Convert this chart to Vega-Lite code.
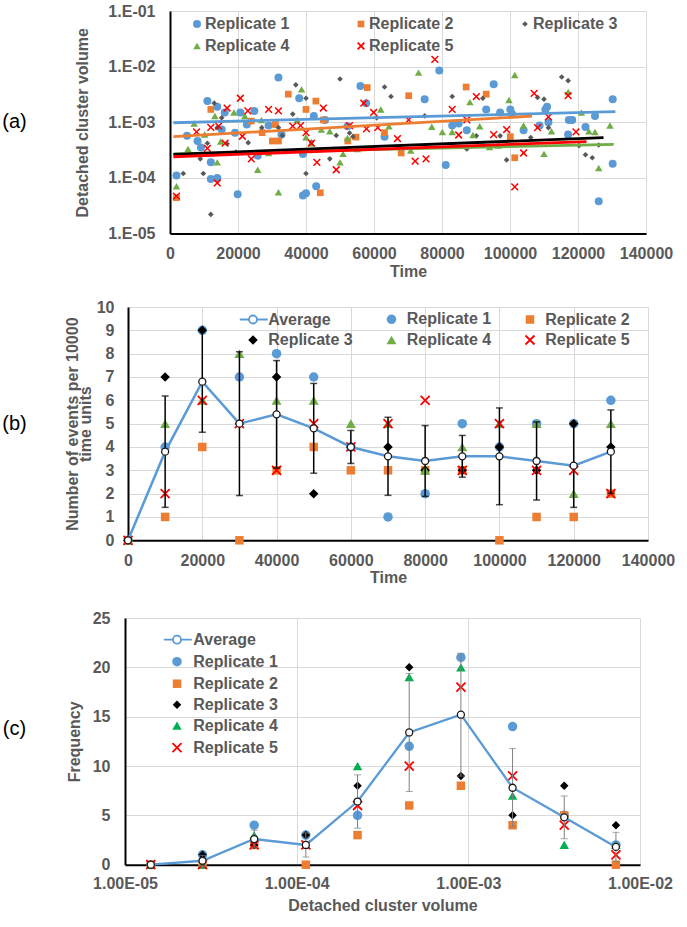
{
  "$schema": "https://vega.github.io/schema/vega-lite/v6.json",
  "padding": {"left": 2, "top": 3, "right": 5, "bottom": 5},
  "columns": 1,
  "spacing": 24,
  "align": "none",
  "resolve": {
    "scale": {"shape": "independent", "fill": "independent", "stroke": "independent", "size": "independent", "color": "independent"},
    "legend": {"shape": "independent", "fill": "independent", "stroke": "independent", "size": "independent", "color": "independent"}
  },
  "concat": [
    {
      "columns": 1,
      "spacing": 19,
      "align": "none",
      "resolve": {
        "scale": {"shape": "independent", "fill": "independent", "stroke": "independent", "size": "independent", "color": "independent"},
        "legend": {"shape": "independent", "fill": "independent", "stroke": "independent", "size": "independent", "color": "independent"}
      },
      "concat": [
        {
          "spacing": 47,
          "resolve": {
            "scale": {"shape": "independent", "fill": "independent", "stroke": "independent", "size": "independent", "color": "independent"},
            "legend": {"shape": "independent", "fill": "independent", "stroke": "independent", "size": "independent", "color": "independent"}
          },
          "hconcat": [
            {
              "width": 25, "height": 222.5,
              "data": {"values": [{"l": "(a)"}]},
              "mark": {"type": "text", "fontSize": 20, "font": "Liberation Sans", "color": "black", "align": "center", "baseline": "middle"},
              "encoding": {"text": {"field": "l", "type": "nominal"}}
            },
            {
              "width": 476,
              "height": 222.5,
              "encoding": {
                "x": {"field": "t", "type": "quantitative", "scale": {"domain": [0, 140000], "nice": false},
                      "axis": {"values": [0, 20000, 40000, 60000, 80000, 100000, 120000, 140000], "format": "d", "title": "Time", "labelPadding": 12, "titlePadding": 2, "grid": true}},
                "y": {"field": "v", "type": "quantitative", "scale": {"type": "log", "domain": [0.00001, 0.1], "nice": false},
                      "axis": {"values": [0.00001, 0.0001, 0.001, 0.01, 0.1], "labelExpr": "'1.E-0' + round(-log(datum.value)/LN10)", "title": "Detached cluster volume", "labelPadding": 15, "titlePadding": 17, "grid": true}}
              },
              "layer": [
                {
                  "data": {"name": "a"},
                  "mark": {"type": "point", "filled": true, "opacity": 1, "strokeWidth": 1.5},
                  "encoding": {
                    "shape": {"field": "s", "type": "nominal", "scale": {"domain": ["Replicate 1", "Replicate 2", "Replicate 3", "Replicate 4", "Replicate 5"], "range": ["circle", "square", "diamond", "triangle-up", "M-1,-1L1,1M-1,1L1,-1"]},
                              "legend": {"orient": "none", "legendX": 19, "legendY": 5, "direction": "horizontal", "columns": 3, "columnPadding": 63, "rowPadding": 6, "labelOffset": 0, "title": null}},
                    "fill": {"field": "s", "type": "nominal", "scale": {"domain": ["Replicate 1", "Replicate 2", "Replicate 3", "Replicate 4", "Replicate 5"], "range": ["#5B9BD5", "#ED7D31", "#595959", "#70AD47", "transparent"]},
                             "legend": {"orient": "none", "legendX": 19, "legendY": 5, "direction": "horizontal", "columns": 3, "columnPadding": 63, "rowPadding": 6, "labelOffset": 0, "title": null}},
                    "stroke": {"field": "s", "type": "nominal", "scale": {"domain": ["Replicate 1", "Replicate 2", "Replicate 3", "Replicate 4", "Replicate 5"], "range": ["transparent", "transparent", "transparent", "transparent", "#FF0000"]},
                               "legend": {"orient": "none", "legendX": 19, "legendY": 5, "direction": "horizontal", "columns": 3, "columnPadding": 63, "rowPadding": 6, "labelOffset": 0, "title": null}},
                    "size": {"field": "s", "type": "nominal", "scale": {"type": "ordinal", "domain": ["Replicate 1", "Replicate 2", "Replicate 3", "Replicate 4", "Replicate 5"], "range": [64, 45, 32, 56, 45]},
                             "legend": {"orient": "none", "legendX": 19, "legendY": 5, "direction": "horizontal", "columns": 3, "columnPadding": 63, "rowPadding": 6, "labelOffset": 0, "title": null}}
                  }
                },
                {
                  "data": {"name": "at"},
                  "mark": {"type": "line", "strokeWidth": 2.8},
                  "encoding": {
                    "color": {"field": "s", "type": "nominal", "scale": {"domain": ["Replicate 1", "Replicate 2", "Replicate 4", "Replicate 3", "Replicate 5"], "range": ["#5B9BD5", "#ED7D31", "#70AD47", "#000000", "#FF0000"]}, "legend": null}
                  }
                },
                {
                  "data": {"values": [{}]},
                  "mark": {"type": "point", "shape": "M0,0L-1,2.2L1,2.2Z", "filled": true, "color": "black", "size": 49, "opacity": 1, "strokeWidth": 0},
                  "encoding": {"x": {"datum": 0, "type": "quantitative"}, "y": {"datum": 0.1, "type": "quantitative"}}
                },
                {
                  "data": {"values": [{}]},
                  "mark": {"type": "point", "shape": "M0,0L-2.2,-1L-2.2,1Z", "filled": true, "color": "black", "size": 49, "opacity": 1, "strokeWidth": 0},
                  "encoding": {"x": {"datum": 140000, "type": "quantitative"}, "y": {"datum": 0.00001, "type": "quantitative"}}
                }
              ]
            }
          ]
        },
        {
          "spacing": 37,
          "resolve": {
            "scale": {"shape": "independent", "fill": "independent", "stroke": "independent", "size": "independent", "color": "independent"},
            "legend": {"shape": "independent", "fill": "independent", "stroke": "independent", "size": "independent", "color": "independent"}
          },
          "hconcat": [
            {
              "width": 25, "height": 233.3,
              "data": {"values": [{"l": "(b)"}]},
              "mark": {"type": "text", "fontSize": 20, "font": "Liberation Sans", "color": "black", "align": "center", "baseline": "middle"},
              "encoding": {"text": {"field": "l", "type": "nominal"}}
            },
            {
              "width": 520,
              "height": 233.3,
              "data": {"name": "b"},
              "encoding": {
                "x": {"field": "t", "type": "quantitative", "scale": {"domain": [0, 140000], "nice": false},
                      "axis": {"values": [0, 20000, 40000, 60000, 80000, 100000, 120000, 140000], "format": "d", "title": "Time", "labelPadding": 12, "titlePadding": 1, "grid": true}},
                "y": {"field": "v", "type": "quantitative", "scale": {"domain": [0, 10], "nice": false},
                      "axis": {"values": [0, 1, 2, 3, 4, 5, 6, 7, 8, 9, 10], "title": ["Number of events per 10000", "time units"], "titleLineHeight": 13, "labelPadding": 14, "titlePadding": 3, "grid": true}}
              },
              "layer": [
                {
                  "transform": [{"filter": "datum.s !== 'Average'"}],
                  "mark": {"type": "point", "filled": true, "opacity": 1, "strokeWidth": 1.8},
                  "encoding": {
                    "shape": {"field": "s", "type": "nominal", "scale": {"domain": ["Average", "Replicate 1", "Replicate 2", "Replicate 3", "Replicate 4", "Replicate 5"], "range": ["M-3.3,0L-1,0M1,0L3.7,0M-1,0A1,1,0,1,1,1,0A1,1,0,1,1,-1,0Z", "circle", "square", "diamond", "triangle-up", "M-1,-1L1,1M-1,1L1,-1"]},
                              "legend": {"orient": "none", "legendX": 117, "legendY": 4, "direction": "horizontal", "columns": 3, "columnPadding": 29.5, "rowPadding": 3, "labelOffset": 7.2, "title": null}},
                    "fill": {"field": "s", "type": "nominal", "scale": {"domain": ["Average", "Replicate 1", "Replicate 2", "Replicate 3", "Replicate 4", "Replicate 5"], "range": ["white", "#5B9BD5", "#ED7D31", "#000000", "#70AD47", "transparent"]},
                             "legend": {"orient": "none", "legendX": 117, "legendY": 4, "direction": "horizontal", "columns": 3, "columnPadding": 29.5, "rowPadding": 3, "labelOffset": 7.2, "title": null}},
                    "stroke": {"field": "s", "type": "nominal", "scale": {"domain": ["Average", "Replicate 1", "Replicate 2", "Replicate 3", "Replicate 4", "Replicate 5"], "range": ["#5B9BD5", "transparent", "transparent", "transparent", "transparent", "#FF0000"]},
                               "legend": {"orient": "none", "legendX": 117, "legendY": 4, "direction": "horizontal", "columns": 3, "columnPadding": 29.5, "rowPadding": 3, "labelOffset": 7.2, "title": null}},
                    "size": {"field": "s", "type": "nominal", "scale": {"type": "ordinal", "domain": ["Average", "Replicate 1", "Replicate 2", "Replicate 3", "Replicate 4", "Replicate 5"], "range": [64, 90, 72, 90, 100, 81]},
                             "legend": {"orient": "none", "legendX": 117, "legendY": 4, "direction": "horizontal", "columns": 3, "columnPadding": 29.5, "rowPadding": 3, "labelOffset": 7.2, "title": null}}
                  }
                },
                {
                  "transform": [{"filter": "datum.s !== 'Average'"}],
                  "mark": {"type": "errorbar", "extent": "stdev", "orient": "vertical", "ticks": true, "size": 7, "thickness": 1.5, "color": "black"}
                },
                {
                  "transform": [{"filter": "datum.s === 'Average'"}],
                  "mark": {"type": "line", "color": "#5B9BD5", "strokeWidth": 2.5}
                },
                {
                  "transform": [{"filter": "datum.s === 'Average'"}],
                  "mark": {"type": "point", "shape": "circle", "filled": true, "fill": "white", "stroke": "#1a1a1a", "strokeWidth": 1.3, "size": 49, "opacity": 1}
                },
                {
                  "data": {"values": [{}]},
                  "mark": {"type": "point", "shape": "M0,0L-1,2.2L1,2.2Z", "filled": true, "color": "black", "size": 49, "opacity": 1, "strokeWidth": 0},
                  "encoding": {"x": {"datum": 0, "type": "quantitative"}, "y": {"datum": 10, "type": "quantitative"}}
                },
                {
                  "data": {"values": [{}]},
                  "mark": {"type": "point", "shape": "M0,0L-2.2,-1L-2.2,1Z", "filled": true, "color": "black", "size": 49, "opacity": 1, "strokeWidth": 0},
                  "encoding": {"x": {"datum": 140000, "type": "quantitative"}, "y": {"datum": 0, "type": "quantitative"}}
                }
              ]
            }
          ]
        }
      ]
    },
    {
      "spacing": 39,
      "resolve": {
        "scale": {"shape": "independent", "fill": "independent", "stroke": "independent", "size": "independent", "color": "independent"},
        "legend": {"shape": "independent", "fill": "independent", "stroke": "independent", "size": "independent", "color": "independent"}
      },
      "hconcat": [
        {
          "width": 25, "height": 246.7,
          "data": {"values": [{"l": "(c)"}]},
          "mark": {"type": "text", "fontSize": 20, "font": "Liberation Sans", "color": "black", "align": "center", "baseline": "middle", "dy": -12},
          "encoding": {"text": {"field": "l", "type": "nominal"}}
        },
        {
          "width": 515,
          "height": 246.7,
          "data": {"name": "c"},
          "encoding": {
            "x": {"field": "t", "type": "quantitative", "scale": {"type": "log", "domain": [0.00001, 0.01], "nice": false},
                  "axis": {"values": [0.00001, 0.0001, 0.001, 0.01], "labelExpr": "'1.00E-0' + round(-log(datum.value)/LN10)", "title": "Detached cluster volume", "labelPadding": 11, "titlePadding": 6, "grid": true}},
            "y": {"field": "v", "type": "quantitative", "scale": {"domain": [0, 25], "nice": false},
                  "axis": {"values": [0, 5, 10, 15, 20, 25], "title": "Frequency", "labelPadding": 15, "titlePadding": 10, "grid": true}}
          },
          "layer": [
            {
              "transform": [{"filter": "datum.s !== 'Average'"}],
              "mark": {"type": "point", "filled": true, "opacity": 1, "strokeWidth": 1.8},
              "encoding": {
                "shape": {"field": "s", "type": "nominal", "scale": {"domain": ["Average", "Replicate 1", "Replicate 2", "Replicate 3", "Replicate 4", "Replicate 5"], "range": ["M-3.3,0L-1,0M1,0L3.7,0M-1,0A1,1,0,1,1,1,0A1,1,0,1,1,-1,0Z", "circle", "square", "diamond", "triangle-up", "M-1,-1L1,1M-1,1L1,-1"]},
                          "legend": {"orient": "none", "legendX": 44, "legendY": 13.7, "columns": 1, "rowPadding": 5, "labelOffset": 8.3, "title": null}},
                "fill": {"field": "s", "type": "nominal", "scale": {"domain": ["Average", "Replicate 1", "Replicate 2", "Replicate 3", "Replicate 4", "Replicate 5"], "range": ["white", "#5B9BD5", "#ED7D31", "#000000", "#00B050", "transparent"]},
                         "legend": {"orient": "none", "legendX": 44, "legendY": 13.7, "columns": 1, "rowPadding": 5, "labelOffset": 8.3, "title": null}},
                "stroke": {"field": "s", "type": "nominal", "scale": {"domain": ["Average", "Replicate 1", "Replicate 2", "Replicate 3", "Replicate 4", "Replicate 5"], "range": ["#5B9BD5", "transparent", "transparent", "transparent", "transparent", "#FF0000"]},
                           "legend": {"orient": "none", "legendX": 44, "legendY": 13.7, "columns": 1, "rowPadding": 5, "labelOffset": 8.3, "title": null}},
                "size": {"field": "s", "type": "nominal", "scale": {"type": "ordinal", "domain": ["Average", "Replicate 1", "Replicate 2", "Replicate 3", "Replicate 4", "Replicate 5"], "range": [64, 90, 72, 72, 90, 81]},
                         "legend": {"orient": "none", "legendX": 44, "legendY": 13.7, "columns": 1, "rowPadding": 5, "labelOffset": 8.3, "title": null}}
              }
            },
            {
              "transform": [{"filter": "datum.s !== 'Average'"}],
              "mark": {"type": "errorbar", "extent": "stdev", "orient": "vertical", "ticks": true, "size": 7, "thickness": 1, "color": "#7F7F7F"}
            },
            {
              "transform": [{"filter": "datum.s === 'Average'"}],
              "mark": {"type": "line", "color": "#5B9BD5", "strokeWidth": 2.3}
            },
            {
              "transform": [{"filter": "datum.s === 'Average'"}],
              "mark": {"type": "point", "shape": "circle", "filled": true, "fill": "white", "stroke": "#1a1a1a", "strokeWidth": 1.3, "size": 49, "opacity": 1}
            },
            {
              "data": {"values": [{}]},
              "mark": {"type": "point", "shape": "M0,0L-1,2.2L1,2.2Z", "filled": true, "color": "black", "size": 49, "opacity": 1, "strokeWidth": 0},
              "encoding": {"x": {"datum": 0.00001, "type": "quantitative"}, "y": {"datum": 25, "type": "quantitative"}}
            },
            {
              "data": {"values": [{}]},
              "mark": {"type": "point", "shape": "M0,0L-2.2,-1L-2.2,1Z", "filled": true, "color": "black", "size": 49, "opacity": 1, "strokeWidth": 0},
              "encoding": {"x": {"datum": 0.01, "type": "quantitative"}, "y": {"datum": 0, "type": "quantitative"}}
            }
          ]
        }
      ]
    }
  ],
  "datasets": {
    "a": [
      {"t":1900,"s":"Replicate 1","v":0.00011},{"t":5000,"s":"Replicate 1","v":0.00057},{"t":8100,"s":"Replicate 1","v":0.00046},{"t":9100,"s":"Replicate 1","v":0.00035},{"t":11000,"s":"Replicate 1","v":0.0024},{"t":12000,"s":"Replicate 1","v":0.000095},{"t":12000,"s":"Replicate 1","v":0.00019},{"t":13900,"s":"Replicate 1","v":0.0019},{"t":13900,"s":"Replicate 1","v":0.0001},{"t":15200,"s":"Replicate 1","v":0.00074},{"t":16100,"s":"Replicate 1","v":0.0015},{"t":19900,"s":"Replicate 1","v":0.000051},{"t":19100,"s":"Replicate 1","v":0.00065},{"t":20700,"s":"Replicate 1","v":0.0015},{"t":22600,"s":"Replicate 1","v":0.00091},{"t":24800,"s":"Replicate 1","v":0.0016},{"t":25800,"s":"Replicate 1","v":0.00025},{"t":29000,"s":"Replicate 1","v":0.00087},{"t":31900,"s":"Replicate 1","v":0.0064},{"t":32800,"s":"Replicate 1","v":0.0006},{"t":38000,"s":"Replicate 1","v":0.0027},{"t":39100,"s":"Replicate 1","v":0.00027},{"t":39100,"s":"Replicate 1","v":0.000048},{"t":40000,"s":"Replicate 1","v":0.000053},{"t":42300,"s":"Replicate 1","v":0.0013},{"t":43000,"s":"Replicate 1","v":0.000071},{"t":45600,"s":"Replicate 1","v":0.0011},{"t":52200,"s":"Replicate 1","v":0.00085},{"t":56000,"s":"Replicate 1","v":0.0045},{"t":57700,"s":"Replicate 1","v":0.0022},{"t":63100,"s":"Replicate 1","v":0.00055},{"t":74900,"s":"Replicate 1","v":0.0026},{"t":79200,"s":"Replicate 1","v":0.0085},{"t":81100,"s":"Replicate 1","v":0.00017},{"t":83000,"s":"Replicate 1","v":0.00087},{"t":84900,"s":"Replicate 1","v":0.00095},{"t":87300,"s":"Replicate 1","v":0.00072},{"t":93000,"s":"Replicate 1","v":0.0017},{"t":95200,"s":"Replicate 1","v":0.0048},{"t":97100,"s":"Replicate 1","v":0.0015},{"t":100100,"s":"Replicate 1","v":0.0017},{"t":100600,"s":"Replicate 1","v":0.0014},{"t":104000,"s":"Replicate 1","v":0.00072},{"t":108700,"s":"Replicate 1","v":0.00087},{"t":110400,"s":"Replicate 1","v":0.0017},{"t":110900,"s":"Replicate 1","v":0.0019},{"t":111300,"s":"Replicate 1","v":0.001},{"t":117100,"s":"Replicate 1","v":0.0006},{"t":117300,"s":"Replicate 1","v":0.0011},{"t":118300,"s":"Replicate 1","v":0.0011},{"t":122200,"s":"Replicate 1","v":0.00082},{"t":125000,"s":"Replicate 1","v":0.0013},{"t":126100,"s":"Replicate 1","v":0.000038},{"t":130200,"s":"Replicate 1","v":0.0026},{"t":130200,"s":"Replicate 1","v":0.00018},
      {"t":1900,"s":"Replicate 2","v":0.000044},{"t":12000,"s":"Replicate 2","v":0.0017},{"t":23900,"s":"Replicate 2","v":0.00105},{"t":27100,"s":"Replicate 2","v":0.00065},{"t":30100,"s":"Replicate 2","v":0.00046},{"t":31000,"s":"Replicate 2","v":0.00091},{"t":31900,"s":"Replicate 2","v":0.00046},{"t":34800,"s":"Replicate 2","v":0.0032},{"t":40000,"s":"Replicate 2","v":0.0017},{"t":42900,"s":"Replicate 2","v":0.0024},{"t":44200,"s":"Replicate 2","v":0.000054},{"t":45100,"s":"Replicate 2","v":0.0011},{"t":52300,"s":"Replicate 2","v":0.00046},{"t":54700,"s":"Replicate 2","v":0.00054},{"t":58000,"s":"Replicate 2","v":0.0042},{"t":63100,"s":"Replicate 2","v":0.00065},{"t":68000,"s":"Replicate 2","v":0.00028},{"t":70200,"s":"Replicate 2","v":0.003},{"t":87100,"s":"Replicate 2","v":0.0043},{"t":93000,"s":"Replicate 2","v":0.0032},{"t":100100,"s":"Replicate 2","v":0.00055},{"t":101400,"s":"Replicate 2","v":0.00023},
      {"t":3900,"s":"Replicate 3","v":0.00012},{"t":8900,"s":"Replicate 3","v":0.00022},{"t":9800,"s":"Replicate 3","v":0.00012},{"t":11000,"s":"Replicate 3","v":0.00042},{"t":12000,"s":"Replicate 3","v":0.000022},{"t":13000,"s":"Replicate 3","v":0.0022},{"t":13900,"s":"Replicate 3","v":0.0008},{"t":15200,"s":"Replicate 3","v":0.0012},{"t":16800,"s":"Replicate 3","v":0.00041},{"t":19400,"s":"Replicate 3","v":0.00029},{"t":23000,"s":"Replicate 3","v":0.00043},{"t":27000,"s":"Replicate 3","v":0.0008},{"t":31900,"s":"Replicate 3","v":0.0008},{"t":33000,"s":"Replicate 3","v":0.00058},{"t":36100,"s":"Replicate 3","v":0.0014},{"t":37000,"s":"Replicate 3","v":0.0047},{"t":40000,"s":"Replicate 3","v":0.0027},{"t":40000,"s":"Replicate 3","v":0.00012},{"t":41600,"s":"Replicate 3","v":0.00044},{"t":47000,"s":"Replicate 3","v":0.00022},{"t":48900,"s":"Replicate 3","v":0.00058},{"t":50000,"s":"Replicate 3","v":0.006},{"t":52800,"s":"Replicate 3","v":0.00064},{"t":53800,"s":"Replicate 3","v":0.00055},{"t":60800,"s":"Replicate 3","v":0.0012},{"t":63100,"s":"Replicate 3","v":0.0043},{"t":65000,"s":"Replicate 3","v":0.0029},{"t":74900,"s":"Replicate 3","v":0.0013},{"t":83000,"s":"Replicate 3","v":0.0029},{"t":87300,"s":"Replicate 3","v":0.00033},{"t":90100,"s":"Replicate 3","v":0.00057},{"t":92000,"s":"Replicate 3","v":0.0027},{"t":97100,"s":"Replicate 3","v":0.00057},{"t":99000,"s":"Replicate 3","v":0.00021},{"t":106100,"s":"Replicate 3","v":0.00053},{"t":108100,"s":"Replicate 3","v":0.0028},{"t":110000,"s":"Replicate 3","v":0.0026},{"t":111300,"s":"Replicate 3","v":0.0008},{"t":115200,"s":"Replicate 3","v":0.0065},{"t":117100,"s":"Replicate 3","v":0.0056},{"t":120300,"s":"Replicate 3","v":0.00038},{"t":122200,"s":"Replicate 3","v":0.00026},{"t":124200,"s":"Replicate 3","v":0.00023},{"t":126100,"s":"Replicate 3","v":0.00039},
      {"t":1900,"s":"Replicate 4","v":0.000071},{"t":5300,"s":"Replicate 4","v":0.00033},{"t":7100,"s":"Replicate 4","v":0.00095},{"t":10200,"s":"Replicate 4","v":0.0006},{"t":13200,"s":"Replicate 4","v":0.0013},{"t":13900,"s":"Replicate 4","v":0.00019},{"t":14900,"s":"Replicate 4","v":0.00045},{"t":18800,"s":"Replicate 4","v":0.0015},{"t":22000,"s":"Replicate 4","v":0.0013},{"t":25800,"s":"Replicate 4","v":0.00014},{"t":26900,"s":"Replicate 4","v":0.0011},{"t":29000,"s":"Replicate 4","v":0.00028},{"t":31900,"s":"Replicate 4","v":0.000055},{"t":37400,"s":"Replicate 4","v":0.0011},{"t":38700,"s":"Replicate 4","v":0.0039},{"t":40000,"s":"Replicate 4","v":0.00054},{"t":41500,"s":"Replicate 4","v":0.00042},{"t":44500,"s":"Replicate 4","v":0.00074},{"t":47000,"s":"Replicate 4","v":0.00069},{"t":50000,"s":"Replicate 4","v":0.00019},{"t":50900,"s":"Replicate 4","v":0.00027},{"t":52200,"s":"Replicate 4","v":0.00052},{"t":55100,"s":"Replicate 4","v":0.00033},{"t":62000,"s":"Replicate 4","v":0.0017},{"t":64400,"s":"Replicate 4","v":0.00085},{"t":70800,"s":"Replicate 4","v":0.00031},{"t":73100,"s":"Replicate 4","v":0.0078},{"t":77000,"s":"Replicate 4","v":0.00083},{"t":80100,"s":"Replicate 4","v":0.00067},{"t":83000,"s":"Replicate 4","v":0.00067},{"t":88200,"s":"Replicate 4","v":0.0023},{"t":89100,"s":"Replicate 4","v":0.00059},{"t":91100,"s":"Replicate 4","v":0.00085},{"t":94000,"s":"Replicate 4","v":0.00036},{"t":96500,"s":"Replicate 4","v":0.00038},{"t":99700,"s":"Replicate 4","v":0.0025},{"t":101400,"s":"Replicate 4","v":0.0071},{"t":104000,"s":"Replicate 4","v":0.00087},{"t":110000,"s":"Replicate 4","v":0.00027},{"t":112200,"s":"Replicate 4","v":0.00069},{"t":117100,"s":"Replicate 4","v":0.0035},{"t":121000,"s":"Replicate 4","v":0.0015},{"t":123200,"s":"Replicate 4","v":0.00069},{"t":125000,"s":"Replicate 4","v":0.00067},{"t":126100,"s":"Replicate 4","v":0.00015},{"t":129400,"s":"Replicate 4","v":0.00087},
      {"t":1900,"s":"Replicate 5","v":0.000047},{"t":7800,"s":"Replicate 5","v":0.00067},{"t":11000,"s":"Replicate 5","v":0.00034},{"t":12000,"s":"Replicate 5","v":0.00081},{"t":13900,"s":"Replicate 5","v":0.000081},{"t":14300,"s":"Replicate 5","v":0.00085},{"t":16200,"s":"Replicate 5","v":0.00042},{"t":16800,"s":"Replicate 5","v":0.0018},{"t":20700,"s":"Replicate 5","v":0.0027},{"t":21300,"s":"Replicate 5","v":0.00056},{"t":22900,"s":"Replicate 5","v":0.0016},{"t":23900,"s":"Replicate 5","v":0.00022},{"t":29000,"s":"Replicate 5","v":0.0017},{"t":31900,"s":"Replicate 5","v":0.0016},{"t":36100,"s":"Replicate 5","v":0.00085},{"t":38400,"s":"Replicate 5","v":0.00087},{"t":40000,"s":"Replicate 5","v":0.00065},{"t":41600,"s":"Replicate 5","v":0.00042},{"t":43200,"s":"Replicate 5","v":0.00019},{"t":45100,"s":"Replicate 5","v":0.0018},{"t":48900,"s":"Replicate 5","v":0.00014},{"t":52800,"s":"Replicate 5","v":0.00087},{"t":57000,"s":"Replicate 5","v":0.0022},{"t":57800,"s":"Replicate 5","v":0.00076},{"t":59900,"s":"Replicate 5","v":0.0015},{"t":61100,"s":"Replicate 5","v":0.0008},{"t":66900,"s":"Replicate 5","v":0.00051},{"t":70200,"s":"Replicate 5","v":0.0011},{"t":72100,"s":"Replicate 5","v":0.0002},{"t":75300,"s":"Replicate 5","v":0.00022},{"t":77900,"s":"Replicate 5","v":0.0135},{"t":83000,"s":"Replicate 5","v":0.0017},{"t":84900,"s":"Replicate 5","v":0.00059},{"t":87300,"s":"Replicate 5","v":0.0011},{"t":90100,"s":"Replicate 5","v":0.0029},{"t":95200,"s":"Replicate 5","v":0.0006},{"t":99000,"s":"Replicate 5","v":0.00074},{"t":101400,"s":"Replicate 5","v":0.000069},{"t":104000,"s":"Replicate 5","v":0.00028},{"t":107100,"s":"Replicate 5","v":0.0033},{"t":108100,"s":"Replicate 5","v":0.0008},{"t":111300,"s":"Replicate 5","v":0.00125},{"t":117100,"s":"Replicate 5","v":0.003},{"t":119400,"s":"Replicate 5","v":0.00067}
    ],
    "at": [
      {"t":1000,"s":"Replicate 1","v":0.00098},{"t":131000,"s":"Replicate 1","v":0.00155},
      {"t":1000,"s":"Replicate 2","v":0.00055},{"t":106500,"s":"Replicate 2","v":0.00129},
      {"t":1000,"s":"Replicate 4","v":0.00027},{"t":130500,"s":"Replicate 4","v":0.0004},
      {"t":1000,"s":"Replicate 3","v":0.000265},{"t":127500,"s":"Replicate 3","v":0.00053},
      {"t":1000,"s":"Replicate 5","v":0.00024},{"t":122500,"s":"Replicate 5","v":0.00045}
    ],
    "b": [
      {"t":0,"s":"Average","v":0},{"t":10000,"s":"Average","v":3.8},{"t":20000,"s":"Average","v":6.8},{"t":30000,"s":"Average","v":5.0},{"t":40000,"s":"Average","v":5.4},{"t":50000,"s":"Average","v":4.8},{"t":60000,"s":"Average","v":4.0},{"t":70000,"s":"Average","v":3.6},{"t":80000,"s":"Average","v":3.4},{"t":90000,"s":"Average","v":3.6},{"t":100000,"s":"Average","v":3.6},{"t":110000,"s":"Average","v":3.4},{"t":120000,"s":"Average","v":3.2},{"t":130000,"s":"Average","v":3.8},
      {"t":0,"s":"Replicate 1","v":0},{"t":10000,"s":"Replicate 1","v":4},{"t":20000,"s":"Replicate 1","v":9},{"t":30000,"s":"Replicate 1","v":7},{"t":40000,"s":"Replicate 1","v":8},{"t":50000,"s":"Replicate 1","v":7},{"t":60000,"s":"Replicate 1","v":4},{"t":70000,"s":"Replicate 1","v":1},{"t":80000,"s":"Replicate 1","v":2},{"t":90000,"s":"Replicate 1","v":5},{"t":100000,"s":"Replicate 1","v":4},{"t":110000,"s":"Replicate 1","v":5},{"t":120000,"s":"Replicate 1","v":5},{"t":130000,"s":"Replicate 1","v":6},
      {"t":0,"s":"Replicate 2","v":0},{"t":10000,"s":"Replicate 2","v":1},{"t":20000,"s":"Replicate 2","v":4},{"t":30000,"s":"Replicate 2","v":0},{"t":40000,"s":"Replicate 2","v":3},{"t":50000,"s":"Replicate 2","v":4},{"t":60000,"s":"Replicate 2","v":3},{"t":70000,"s":"Replicate 2","v":3},{"t":80000,"s":"Replicate 2","v":3},{"t":90000,"s":"Replicate 2","v":3},{"t":100000,"s":"Replicate 2","v":0},{"t":110000,"s":"Replicate 2","v":1},{"t":120000,"s":"Replicate 2","v":1},{"t":130000,"s":"Replicate 2","v":2},
      {"t":0,"s":"Replicate 3","v":0},{"t":10000,"s":"Replicate 3","v":7},{"t":20000,"s":"Replicate 3","v":9},{"t":30000,"s":"Replicate 3","v":5},{"t":40000,"s":"Replicate 3","v":7},{"t":50000,"s":"Replicate 3","v":2},{"t":60000,"s":"Replicate 3","v":4},{"t":70000,"s":"Replicate 3","v":4},{"t":80000,"s":"Replicate 3","v":3},{"t":90000,"s":"Replicate 3","v":3},{"t":100000,"s":"Replicate 3","v":4},{"t":110000,"s":"Replicate 3","v":3},{"t":120000,"s":"Replicate 3","v":5},{"t":130000,"s":"Replicate 3","v":4},
      {"t":0,"s":"Replicate 4","v":0},{"t":10000,"s":"Replicate 4","v":5},{"t":20000,"s":"Replicate 4","v":6},{"t":30000,"s":"Replicate 4","v":8},{"t":40000,"s":"Replicate 4","v":6},{"t":50000,"s":"Replicate 4","v":6},{"t":60000,"s":"Replicate 4","v":5},{"t":70000,"s":"Replicate 4","v":5},{"t":80000,"s":"Replicate 4","v":3},{"t":90000,"s":"Replicate 4","v":4},{"t":100000,"s":"Replicate 4","v":5},{"t":110000,"s":"Replicate 4","v":5},{"t":120000,"s":"Replicate 4","v":2},{"t":130000,"s":"Replicate 4","v":5},
      {"t":0,"s":"Replicate 5","v":0},{"t":10000,"s":"Replicate 5","v":2},{"t":20000,"s":"Replicate 5","v":6},{"t":30000,"s":"Replicate 5","v":5},{"t":40000,"s":"Replicate 5","v":3},{"t":50000,"s":"Replicate 5","v":5},{"t":60000,"s":"Replicate 5","v":4},{"t":70000,"s":"Replicate 5","v":5},{"t":80000,"s":"Replicate 5","v":6},{"t":90000,"s":"Replicate 5","v":3},{"t":100000,"s":"Replicate 5","v":5},{"t":110000,"s":"Replicate 5","v":3},{"t":120000,"s":"Replicate 5","v":3},{"t":130000,"s":"Replicate 5","v":2}
    ],
    "c": [
      {"t":0.00001414,"s":"Average","v":0},{"t":0.00002828,"s":"Average","v":0.4},{"t":0.00005657,"s":"Average","v":2.6},{"t":0.0001131,"s":"Average","v":2.0},{"t":0.0002263,"s":"Average","v":6.4},{"t":0.0004525,"s":"Average","v":13.4},{"t":0.0009051,"s":"Average","v":15.2},{"t":0.00181,"s":"Average","v":7.8},{"t":0.00362,"s":"Average","v":4.8},{"t":0.007241,"s":"Average","v":1.8},
      {"t":0.00001414,"s":"Replicate 1","v":0},{"t":0.00002828,"s":"Replicate 1","v":1},{"t":0.00005657,"s":"Replicate 1","v":4},{"t":0.0001131,"s":"Replicate 1","v":3},{"t":0.0002263,"s":"Replicate 1","v":5},{"t":0.0004525,"s":"Replicate 1","v":12},{"t":0.0009051,"s":"Replicate 1","v":21},{"t":0.00181,"s":"Replicate 1","v":14},{"t":0.00362,"s":"Replicate 1","v":5},{"t":0.007241,"s":"Replicate 1","v":2},
      {"t":0.00001414,"s":"Replicate 2","v":0},{"t":0.00002828,"s":"Replicate 2","v":0},{"t":0.00005657,"s":"Replicate 2","v":2},{"t":0.0001131,"s":"Replicate 2","v":0},{"t":0.0002263,"s":"Replicate 2","v":3},{"t":0.0004525,"s":"Replicate 2","v":6},{"t":0.0009051,"s":"Replicate 2","v":8},{"t":0.00181,"s":"Replicate 2","v":4},{"t":0.00362,"s":"Replicate 2","v":5},{"t":0.007241,"s":"Replicate 2","v":0},
      {"t":0.00001414,"s":"Replicate 3","v":0},{"t":0.00002828,"s":"Replicate 3","v":1},{"t":0.00005657,"s":"Replicate 3","v":2},{"t":0.0001131,"s":"Replicate 3","v":3},{"t":0.0002263,"s":"Replicate 3","v":8},{"t":0.0004525,"s":"Replicate 3","v":20},{"t":0.0009051,"s":"Replicate 3","v":9},{"t":0.00181,"s":"Replicate 3","v":5},{"t":0.00362,"s":"Replicate 3","v":8},{"t":0.007241,"s":"Replicate 3","v":4},
      {"t":0.00001414,"s":"Replicate 4","v":0},{"t":0.00002828,"s":"Replicate 4","v":0},{"t":0.00005657,"s":"Replicate 4","v":3},{"t":0.0001131,"s":"Replicate 4","v":2},{"t":0.0002263,"s":"Replicate 4","v":10},{"t":0.0004525,"s":"Replicate 4","v":19},{"t":0.0009051,"s":"Replicate 4","v":20},{"t":0.00181,"s":"Replicate 4","v":7},{"t":0.00362,"s":"Replicate 4","v":2},{"t":0.007241,"s":"Replicate 4","v":2},
      {"t":0.00001414,"s":"Replicate 5","v":0},{"t":0.00002828,"s":"Replicate 5","v":0},{"t":0.00005657,"s":"Replicate 5","v":2},{"t":0.0001131,"s":"Replicate 5","v":2},{"t":0.0002263,"s":"Replicate 5","v":6},{"t":0.0004525,"s":"Replicate 5","v":10},{"t":0.0009051,"s":"Replicate 5","v":18},{"t":0.00181,"s":"Replicate 5","v":9},{"t":0.00362,"s":"Replicate 5","v":4},{"t":0.007241,"s":"Replicate 5","v":1}
    ]
  },
  "config": {
    "font": "Liberation Sans",
    "view": {"stroke": null},
    "axis": {"labelFont": "Liberation Sans", "labelFontSize": 16, "labelFontWeight": "bold", "labelColor": "#595959", "titleFont": "Liberation Sans", "titleFontSize": 16, "titleFontWeight": "bold", "titleColor": "#595959", "ticks": false, "gridColor": "#D9D9D9", "gridWidth": 1, "domainColor": "#000000", "domainWidth": 2, "labelFlush": false, "labelOverlap": false},
    "legend": {"labelFont": "Liberation Sans", "labelFontSize": 16, "labelFontWeight": "bold", "labelColor": "#595959", "symbolStrokeWidth": 1.8, "padding": 0}
  }
}
